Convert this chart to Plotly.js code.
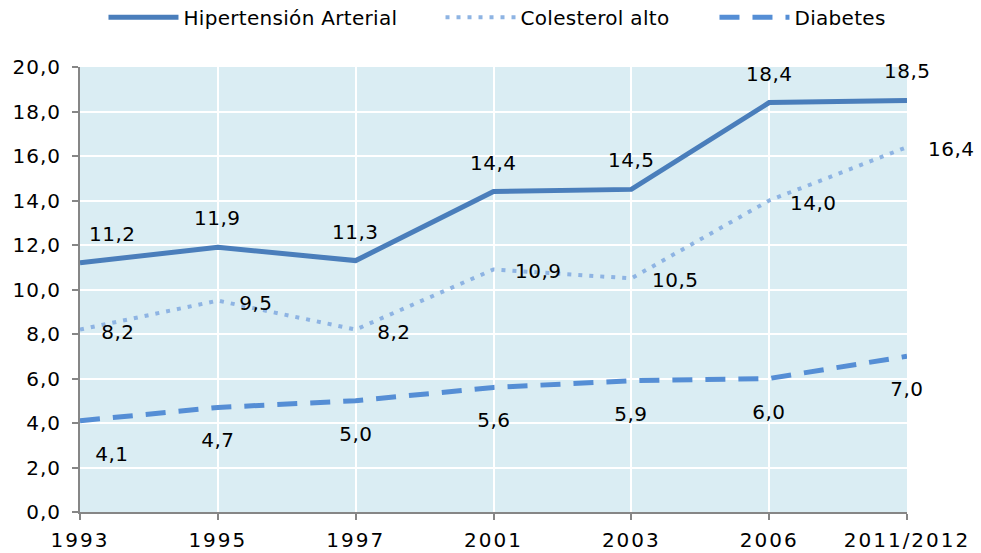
<!DOCTYPE html>
<html><head><meta charset="utf-8">
<script src="https://cdn.plot.ly/plotly-3.0.1.min.js"></script>
<style>html,body{margin:0;padding:0;background:#fff}#chart{width:981px;height:553px}
#chart .xtick text{letter-spacing:2px}
#chart .ytick text{letter-spacing:1px}
#chart .annotation-text{letter-spacing:0.5px}
#chart .legendtext{letter-spacing:0.3px}
</style>
</head><body><div id="chart"></div>
<script>
const years = ["1993","1995","1997","2001","2003","2006","2011/2012"];
const hipertension = [11.2, 11.9, 11.3, 14.4, 14.5, 18.4, 18.5];
const colesterol = [8.2, 9.5, 8.2, 10.9, 10.5, 14.0, 16.4];
const diabetes = [4.1, 4.7, 5.0, 5.6, 5.9, 6.0, 7.0];
const seriesNames = ["Hipertensión Arterial", "Colesterol alto", "Diabetes"];

const cHip = "#4A7EBB", cCol = "#8EB4E3", cDia = "#558ED5";
const fontFam = "DejaVu Sans, Verdana, sans-serif";
const pad = n => "\u00a0".repeat(n);

const traces = [
  {x: years, y: hipertension, name: seriesNames[0] + pad(7), mode: "lines", line: {color: cHip, width: 5}},
  {x: years, y: colesterol, name: seriesNames[1] + pad(7), mode: "lines", line: {color: cCol, width: 4, dash: "4px,7px"}},
  {x: years, y: diabetes, name: seriesNames[2], mode: "lines", line: {color: cDia, width: 5, dash: "20px,13px"}}
];

const fmt = v => v.toFixed(1).replace(".", ",");
const annFont = {family: fontFam, size: 20, color: "#000"};
const annotations = [];
years.forEach((yr, i) => {
  annotations.push({x: i, y: hipertension[i], text: fmt(hipertension[i]), showarrow: false,
    xanchor: "center", yanchor: "middle", yshift: 29, xshift: i === 0 ? 32 : 0, font: annFont});
  annotations.push({x: i, y: colesterol[i], text: fmt(colesterol[i]), showarrow: false,
    xanchor: "left", yanchor: "middle", yshift: -2, xshift: 20, font: annFont});
  annotations.push({x: i, y: diabetes[i], text: fmt(diabetes[i]), showarrow: false,
    xanchor: "center", yanchor: "middle", yshift: -33, xshift: i === 0 ? 32 : 0, font: annFont});
});

const layout = {
  width: 981, height: 553,
  margin: {l: 80, r: 74, t: 67, b: 41, autoexpand: false},
  paper_bgcolor: "#fff", plot_bgcolor: "#DAEDF3",
  separators: ", ",
  font: {family: fontFam, size: 20, color: "#000"},
  showlegend: true,
  legend: {orientation: "h", x: 0.503, xanchor: "center", y: 1.112, yref: "paper", yanchor: "middle",
    font: {family: fontFam, size: 20, color: "#000"}, itemwidth: 70, tracegroupgap: 0,
    bgcolor: "rgba(0,0,0,0)"},
  xaxis: {type: "category", range: [0, 6], showgrid: true, gridcolor: "#fff", gridwidth: 2,
    showline: true, linecolor: "#868686", linewidth: 2, ticks: "outside", ticklen: 6, tickwidth: 2,
    tickcolor: "#868686", tickfont: {family: fontFam, size: 20}, zeroline: false, ticklabelstandoff: 3},
  yaxis: {range: [0, 20], dtick: 2, tick0: 0, tickformat: ".1f", showgrid: true, gridcolor: "#fff", gridwidth: 2,
    showline: true, linecolor: "#868686", linewidth: 2, ticks: "outside", ticklen: 6, tickwidth: 2,
    tickcolor: "#868686", tickfont: {family: fontFam, size: 20}, zeroline: false, ticklabelstandoff: 7},
  annotations: annotations
};

Plotly.newPlot("chart", traces, layout, {displayModeBar: false, staticPlot: true});
</script></body></html>
